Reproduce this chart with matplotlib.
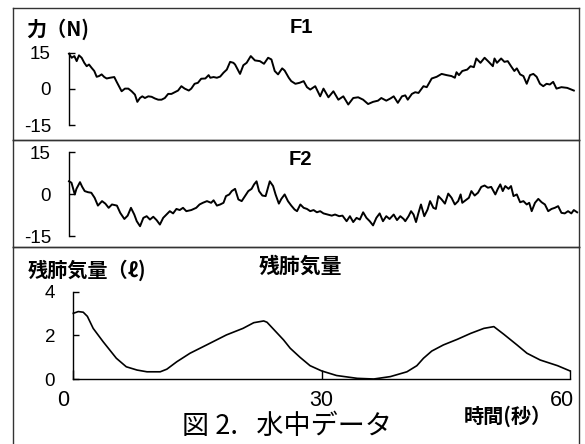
import numpy as np
import matplotlib
matplotlib.use("Agg")
import matplotlib.pyplot as plt
import matplotlib.transforms as mtransforms

# ---- data (time in s) ----
# F1 force trace (N)
f1_t = [0, 0.32, 0.65, 0.93, 1.21, 1.53, 1.85, 2.14, 2.42, 2.74,
        3.06, 3.35, 3.63, 3.95, 4.27, 4.56, 4.96, 5.48, 5.77, 6.05,
        6.37, 6.77, 7.18, 7.58, 7.98, 8.27, 8.59, 8.87, 9.19, 9.6,
        10.0, 10.4, 10.8, 11.2, 11.6, 12.0, 12.4, 12.8, 13.2, 13.6,
        14.0, 14.5, 14.8, 15.2, 15.6, 16.0, 16.5, 16.9, 17.1, 17.5,
        17.9, 18.3, 18.7, 19.1, 19.5, 19.9,
        20.1, 20.7, 21.1, 21.5, 22.0, 22.5, 23.1, 23.6, 24.1, 24.5,
        24.9, 25.3, 25.8, 26.1, 26.6, 26.9, 27.4, 27.9, 28.4, 28.8,
        29.2, 29.8, 30.4, 30.8, 31.4, 32.0, 32.6, 33.2, 33.8, 34.4,
        35.0, 35.6, 36.2, 36.8, 37.4, 37.8, 38.4, 38.9, 39.3, 39.8,
        40.3,
        40.7, 41.0, 41.5, 41.9, 42.3, 42.9, 43.3, 43.9, 44.5, 45.1,
        45.7, 46.3, 46.7, 46.9, 47.2, 47.6, 48.2, 48.6, 49.0, 49.3,
        49.8, 50.3, 50.8, 51.3, 51.5, 51.8, 52.3, 52.7, 53.1, 53.5,
        53.9, 54.2, 54.6, 55.0, 55.4, 55.8, 56.2, 56.6, 57.0, 57.4,
        57.8, 58.2, 58.6, 59.0, 59.6, 60.3, 61.1]
f1_v = [14.6, 12.9, 13.6, 11.5, 13.9, 12.9, 10.8, 9.4, 10.1, 8.7,
        7.4, 5.0, 5.3, 6.0, 4.9, 4.3, 4.6, 4.9, 2.9, 1.1,
        -1.0, 0.1, 0.1, -1.0, -2.4, -5.4, -3.8, -3.1, -3.8, -3.1,
        -3.3, -4.0, -4.5, -4.5, -3.8, -2.1, -2.1, -1.4, -0.7, 1.1,
        0.1, -0.7, 0.1, 2.1, 2.5, 4.2, 4.3, 5.7, 4.6, 4.9,
        4.6, 5.1, 6.7, 8.0, 11.2, 10.8,
        10.1, 6.2, 9.8, 10.8, 13.6, 11.8, 11.5, 10.4, 12.9, 12.2,
        7.4, 6.0, 8.5, 7.6, 4.6, 3.2, 2.1, 2.5, 3.2, 0.7,
        -0.3, 1.1, -3.1, 0.1, -3.5, -1.0, -4.5, -3.1, -6.5, -3.8,
        -3.5, -4.5, -6.3, -5.4, -4.9, -3.8, -4.9, -4.0, -3.1, -5.8,
        -3.1,
        -2.7, -4.5, -2.1, -1.4, -1.7, 1.1, 0.7, 4.3, 5.0, 6.2,
        5.7, 5.3, 4.6, 6.9, 5.7, 7.4, 8.0, 9.4, 9.0, 12.6,
        10.8, 12.9, 11.2, 9.4, 12.6, 10.8, 12.6, 11.2, 11.5, 9.4,
        7.4, 8.5, 6.0, 5.3, 2.1, 5.7, 6.2, 5.0, 2.1, 1.1,
        2.1, 1.8, 2.9, 0.1, 0.7, 0.4, -0.7]

# F2 force trace (N)
f2_t = [0, 0.3, 0.7, 0.9, 1.33, 1.6, 1.9, 2.3, 2.7, 3.1,
        3.5, 4.0, 4.4, 4.8, 5.2, 5.8, 6.2, 6.7, 7.1, 7.5,
        7.9, 8.2, 8.6, 9.0, 9.4, 9.8, 10.2, 10.6, 11.0, 11.4,
        11.8, 12.2, 12.6, 13.0, 13.4, 13.8, 14.2, 14.8, 15.4, 15.8,
        16.2, 16.7, 17.2, 17.5, 17.9, 18.3, 18.7, 19.0, 19.4, 19.7,
        20.1,
        20.5, 20.9, 21.3, 21.7, 22.1, 22.4, 22.7, 23.0, 23.4, 23.8,
        24.3, 24.7, 25.0, 25.4, 25.7, 26.1, 26.5, 26.9, 27.3, 27.6,
        28.0, 28.4, 28.8, 29.2, 29.6, 30.0, 30.4, 30.8, 31.3, 31.8,
        32.2, 32.7, 33.1, 33.6, 34.0, 34.4, 34.8, 35.2, 35.6, 36.0,
        36.4, 36.8, 37.2, 37.6, 38.0, 38.4, 38.8, 39.3, 39.7, 40.1,
        40.5,
        40.7, 41.1, 41.4, 41.7, 42.0, 42.3, 42.6, 43.0, 43.4, 43.7,
        44.1, 44.4, 44.7, 45.1, 45.5, 45.9, 46.3, 46.7, 47.1, 47.4,
        47.6, 48.0, 48.4, 48.7, 49.1, 49.5, 49.9, 50.3, 50.7, 51.1,
        51.6, 51.9, 52.2, 52.5, 52.8, 53.2, 53.5, 53.8, 54.2, 54.6,
        55.0, 55.4, 55.7, 56.0, 56.4, 56.8, 57.2, 57.6, 58.0, 58.4,
        58.8, 59.2, 59.6, 60.0, 60.4, 60.8, 61.1, 61.5]
f2_v = [4.6, 4.1, -0.1, 1.9, 4.3, 2.6, 1.1, 0.7, 0.5, -1.3,
        -4.1, -2.5, -3.4, -4.9, -3.7, -4.1, -6.7, -8.9, -7.7, -4.9,
        -7.3, -9.7, -11.5, -8.5, -7.9, -9.1, -8.1, -9.3, -10.9, -8.5,
        -7.3, -6.1, -6.9, -5.3, -5.7, -4.9, -6.1, -5.7, -4.9, -3.7,
        -3.1, -2.5, -3.1, -2.2, -4.1, -3.7, -3.1, -0.7, -0.1, 1.1,
        1.9,
        -1.9, -2.5, -0.7, 1.1, 1.9, 3.5, 4.6, 1.1, -0.5, -0.7,
        4.6, 2.9, -0.1, -3.4, -1.7, -0.1, -2.5, -4.1, -5.5, -6.1,
        -3.7, -4.9, -5.3, -6.1, -5.7, -6.5, -6.1, -6.9, -7.3, -7.7,
        -7.3, -7.9, -7.7, -9.7, -7.9, -10.0, -8.5, -9.1, -6.5, -8.5,
        -9.7, -11.2, -8.5, -6.9, -9.7, -7.9, -8.9, -7.3, -9.3, -7.9,
        -8.9,
        -9.7, -7.9, -6.1, -7.3, -10.0, -6.7, -3.7, -7.9, -5.5, -2.5,
        -4.9, -5.3, -0.7, -1.9, -3.4, 0.2, -1.3, -3.7, -2.5, -0.1,
        -3.1, -2.2, -1.3, 1.1, -0.5, 0.5, 2.6, 3.1, 2.3, 2.6,
        -0.1, 1.9, 3.5, 1.1, 2.9, 1.9, 2.9, -0.7, -0.1, -2.9,
        -2.5, -3.7, -3.1, -6.1, -3.1, -1.7, -2.9, -3.7, -6.1, -5.3,
        -4.9, -4.3, -6.7, -6.9, -6.1, -6.9, -5.7, -6.5]

# residual lung volume (l)
rv_t = [0, 0.6, 1.2, 1.7, 2.4, 3.6, 5.2, 6.4, 7.7, 8.9,
        10.5, 11.3, 12.5, 14.1, 16.1, 18.5, 20.5, 21.8, 23.0, 23.4,
        25.4, 26.2, 27.4, 28.6, 30.0, 31.8, 34.3, 36.3, 38.3, 40.3,
        41.5, 42.3, 43.3, 44.7, 46.4, 48.0, 49.6, 50.8, 52.0, 53.6,
        54.8, 56.4, 58.5, 60.0]
rv_v = [3.01, 3.09, 3.06, 2.87, 2.32, 1.71, 0.95, 0.56, 0.41, 0.33,
        0.33, 0.45, 0.79, 1.18, 1.56, 2.02, 2.32, 2.58, 2.66, 2.60,
        1.79, 1.41, 0.99, 0.61, 0.37, 0.16, 0.03, 0.0, 0.11, 0.33,
        0.61, 0.95, 1.28, 1.56, 1.82, 2.09, 2.32, 2.40, 2.05, 1.56,
        1.18, 0.87, 0.61, 0.37]

force_ticks = [-15, 0, 15]
rv_ticks = [0, 2, 4]
time_ticks = [0, 30, 60]

W, H = 585, 444
JP = ['Noto Sans CJK JP', 'DejaVu Sans']
LAT = ['Liberation Sans', 'DejaVu Sans']


def rect(x0, y0, x1, y1):
    # pixel box (top-left origin) -> figure fraction
    return [x0 / W, 1 - y1 / H, (x1 - x0) / W, (y1 - y0) / H]


def ftext(x, y, s, **kw):
    fig.text(x / W, 1 - y / H, s, **kw)


fig = plt.figure(figsize=(W / 100, H / 100), dpi=100)

# outer frames of the three blocks
for box, open_bottom in [((13, 8, 579, 140), False), ((13, 140, 579, 247), False),
                         ((13, 247, 579, H + 2), True)]:
    fr = fig.add_axes(rect(*box), zorder=0)
    fr.set_xticks([])
    fr.set_yticks([])
    fr.patch.set_alpha(0)
    for sp in fr.spines.values():
        sp.set_color('#333333')
        sp.set_linewidth(1.0)
    if open_bottom:
        fr.spines['bottom'].set_visible(False)


def force_axes(box, t, v):
    ax = fig.add_axes(rect(*box), zorder=2)
    ax.patch.set_alpha(0)
    ax.plot(t, v, color='black', lw=1.4, clip_on=False)
    ax.set_xlim(0, 61)
    ax.set_ylim(-15, 15)
    for s in ['top', 'right', 'bottom']:
        ax.spines[s].set_visible(False)
    ax.spines['left'].set_linewidth(1.0)
    ax.set_xticks([])
    ax.set_yticks(force_ticks)
    ax.set_yticklabels([str(x) for x in force_ticks], family=LAT, fontsize=13.5)
    ax.tick_params(axis='y', direction='in', length=4.5, width=1.0, pad=13)
    return ax


ax1 = force_axes((69, 52.7, 573, 125), f1_t, f1_v)
ax2 = force_axes((69, 152.3, 573, 236), f2_t, f2_v)

# residual volume panel
ax3 = fig.add_axes(rect(73.3, 291.7, 570, 379), zorder=2)
ax3.patch.set_alpha(0)
ax3.plot(rv_t, rv_v, color='black', lw=1.2, clip_on=False)
ax3.set_xlim(0, 60)
ax3.set_ylim(0, 4)
for s in ['top', 'right']:
    ax3.spines[s].set_visible(False)
ax3.spines['left'].set_linewidth(1.0)
ax3.spines['bottom'].set_linewidth(1.0)
ax3.set_yticks(rv_ticks)
ax3.set_yticklabels([str(x) for x in rv_ticks], family=LAT, fontsize=13.5)
ax3.tick_params(axis='y', direction='in', length=4.5, width=1.0, pad=13)
ax3.set_xticks(time_ticks)
ax3.set_xticklabels([str(x) for x in time_ticks], family=LAT, fontsize=15.5)
ax3.tick_params(axis='x', direction='in', length=6.5, width=1.0, pad=8)
xl = ax3.get_xticklabels()
for lab, dx in [(xl[0], -10), (xl[2], -8)]:
    lab.set_transform(lab.get_transform() +
                      mtransforms.ScaledTranslation(dx / 100, 0, fig.dpi_scale_trans))

# labels and titles
ftext(26, 29, '力（N)', family=JP, weight='bold', fontsize=14.5, ha='left', va='center')
ftext(301, 27.5, 'F1', family=LAT, weight='bold', fontsize=14.5, ha='center', va='center')
ftext(300, 159.5, 'F2', family=LAT, weight='bold', fontsize=14.5, ha='center', va='center')
ftext(28, 270, '残肺気量（ℓ)', family=JP, weight='bold', fontsize=14.5, ha='left', va='center')
ftext(300, 266.5, '残肺気量', family=JP, weight='bold', fontsize=15, ha='center', va='center')
ftext(507.5, 416.5, '時間(秒）', family=JP, weight='bold', fontsize=14.5, ha='center', va='center')
ftext(287.5, 426.5, '図 2.   水中データ', family=JP, fontsize=19.5, ha='center', va='center')

fig.savefig('out.png', dpi=100)
